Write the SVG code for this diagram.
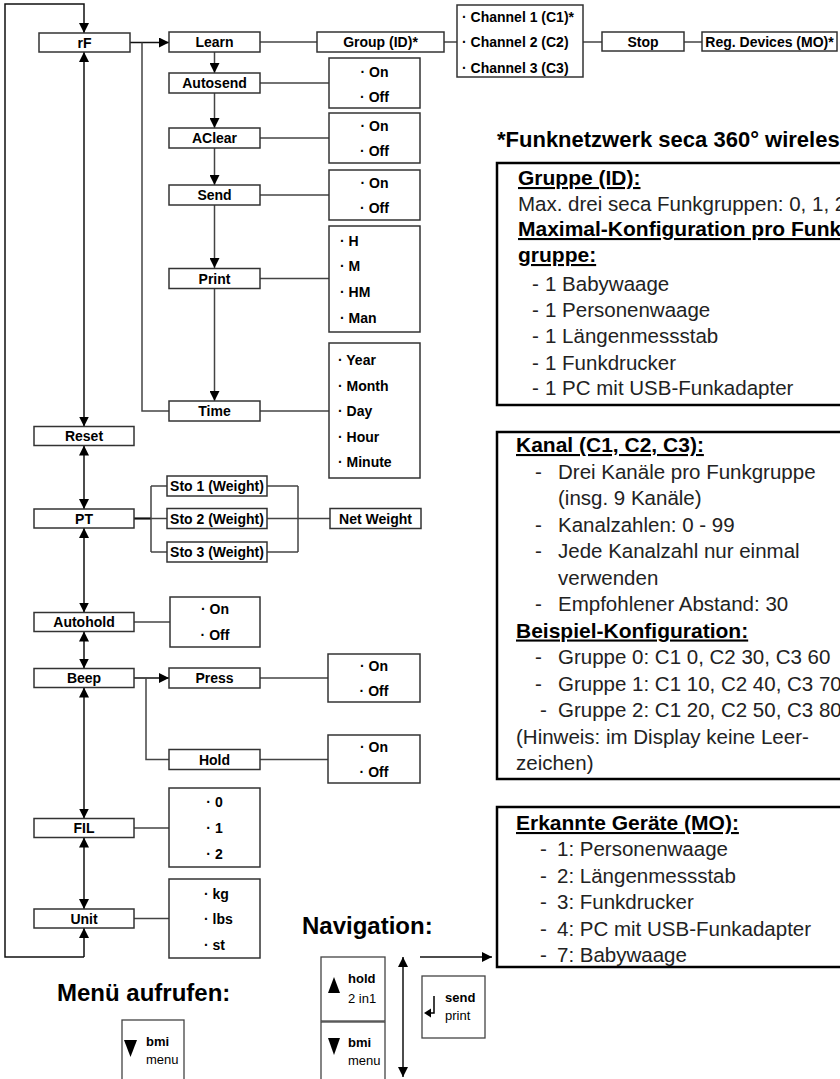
<svg xmlns="http://www.w3.org/2000/svg" width="840" height="1079" viewBox="0 0 840 1079">
<style>
.bx{fill:#fff;stroke:#333;stroke-width:1.5}
.ib{fill:#fff;stroke:#000;stroke-width:2.5}
.kb{fill:#fff;stroke:#444;stroke-width:1.3}
.t{font-family:"Liberation Sans",Arial,sans-serif;font-size:14px;font-weight:bold;fill:#000}
.c{text-anchor:middle}
.ln{fill:none;stroke:#444;stroke-width:1.5}
.lb{fill:none;stroke:#111;stroke-width:1.5}
.h{font-family:"Liberation Sans",Arial,sans-serif;font-size:22px;font-weight:bold;fill:#000}
.b{font-family:"Liberation Sans",Arial,sans-serif;font-size:20.5px;fill:#222}
.bu{font-family:"Liberation Sans",Arial,sans-serif;font-size:21px;font-weight:bold;fill:#000;text-decoration:underline}
.nv{font-family:"Liberation Sans",Arial,sans-serif;font-size:24px;font-weight:bold;fill:#000}
.kt{font-family:"Liberation Sans",Arial,sans-serif;font-size:13px;fill:#000}
.kbold{font-weight:bold}
</style>
<defs>
<marker id="ar" viewBox="0 0 10 10" refX="10" refY="5" markerWidth="10" markerHeight="10" markerUnits="userSpaceOnUse" orient="auto-start-reverse">
<path d="M0,0 L10,5 L0,10 z" fill="#000"/>
</marker>
</defs>

<g id="connectors">
<path class="lb" d="M84,957 L5,957 L5,4 L84,4 L84,33" marker-end="url(#ar)"/>
<path class="lb" d="M84,957 L84,928" marker-end="url(#ar)"/>
<path class="lb" d="M84,52 L84,426.5" marker-start="url(#ar)" marker-end="url(#ar)"/>
<path class="lb" d="M84,445.5 L84,509" marker-start="url(#ar)" marker-end="url(#ar)"/>
<path class="lb" d="M84,528 L84,612.5" marker-start="url(#ar)" marker-end="url(#ar)"/>
<path class="lb" d="M84,631.5 L84,668.5" marker-start="url(#ar)" marker-end="url(#ar)"/>
<path class="lb" d="M84,687.5 L84,818.5" marker-start="url(#ar)" marker-end="url(#ar)"/>
<path class="lb" d="M84,837.5 L84,909" marker-start="url(#ar)" marker-end="url(#ar)"/>

<path class="lb" d="M130,42.5 L169,42.5" marker-end="url(#ar)"/>
<path class="ln" d="M142,42.5 L142,411 L169,411"/>
<path class="ln" d="M214.5,52 L214.5,73" marker-end="url(#ar)"/>
<path class="ln" d="M214.5,93 L214.5,128" marker-end="url(#ar)"/>
<path class="ln" d="M214.5,148 L214.5,185" marker-end="url(#ar)"/>
<path class="ln" d="M214.5,205 L214.5,268" marker-end="url(#ar)"/>
<path class="ln" d="M214.5,289 L214.5,401" marker-end="url(#ar)"/>

<path class="ln" d="M260,42 L317,42 M444,42 L457,42 M583,42 L602,42 M684,42 L702,42"/>
<path class="ln" d="M260,83 L329,83 M260,138 L329,138 M260,195 L329,195 M260,278.5 L329,278.5 M260,411 L329,411"/>

<path class="lb" d="M134,518.5 L151,518.5" style="stroke-width:2.2"/>
<path class="ln" d="M151,486 L151,552 M151,486 L167,486 M151,518.5 L167,518.5 M151,552 L167,552"/>
<path class="ln" d="M267,486 L298,486 M267,518.5 L298,518.5 M267,552 L298,552 M298,486 L298,552 M298,518.5 L330,518.5"/>

<path class="ln" d="M134,622 L170,622"/>
<path class="lb" d="M134,678 L169,678" marker-end="url(#ar)"/>
<path class="ln" d="M146,678 L146,759.5 L169,759.5"/>
<path class="ln" d="M260,678 L328,678 M260,759.5 L328,759.5"/>
<path class="ln" d="M134,828 L169,828 M134,918.5 L169,918.5"/>

<path class="lb" d="M403,957 L403,1077" marker-start="url(#ar)" marker-end="url(#ar)"/>
<path class="lb" d="M420,957 L492,957" marker-end="url(#ar)"/>
</g>

<g id="rF"><rect class="bx" x="39" y="33" width="91" height="19"/><text class="t c" x="84.5" y="47.5">rF</text></g>
<g id="reset"><rect class="bx" x="34" y="426.5" width="100" height="19"/><text class="t c" x="84" y="441">Reset</text></g>
<g id="pt"><rect class="bx" x="34" y="509" width="100" height="19"/><text class="t c" x="84" y="523.5">PT</text></g>
<g id="autohold"><rect class="bx" x="34" y="612.5" width="100" height="19"/><text class="t c" x="84" y="627">Autohold</text></g>
<g id="beep"><rect class="bx" x="34" y="668.5" width="100" height="19"/><text class="t c" x="84" y="683">Beep</text></g>
<g id="fil"><rect class="bx" x="34" y="818.5" width="100" height="19"/><text class="t c" x="84" y="833">FIL</text></g>
<g id="unit"><rect class="bx" x="34" y="909" width="100" height="19"/><text class="t c" x="84" y="923.5">Unit</text></g>

<g id="learn"><rect class="bx" x="169" y="32" width="91" height="20"/><text class="t c" x="214.5" y="47">Learn</text></g>
<g id="autosend"><rect class="bx" x="169" y="73" width="91" height="20"/><text class="t c" x="214.5" y="88">Autosend</text></g>
<g id="aclear"><rect class="bx" x="169" y="128" width="91" height="20"/><text class="t c" x="214.5" y="143">AClear</text></g>
<g id="send"><rect class="bx" x="169" y="185" width="91" height="20"/><text class="t c" x="214.5" y="200">Send</text></g>
<g id="print"><rect class="bx" x="169" y="268.5" width="91" height="20"/><text class="t c" x="214.5" y="283.5">Print</text></g>
<g id="time"><rect class="bx" x="169" y="401" width="91" height="20"/><text class="t c" x="214.5" y="416">Time</text></g>
<g id="press"><rect class="bx" x="169" y="668" width="91" height="20"/><text class="t c" x="214.5" y="683">Press</text></g>
<g id="hold"><rect class="bx" x="169" y="749.5" width="91" height="20"/><text class="t c" x="214.5" y="764.5">Hold</text></g>

<g id="group"><rect class="bx" x="317" y="32" width="127" height="20"/><text class="t c" x="380.5" y="47">Group (ID)*</text></g>
<g id="channels"><rect class="bx" x="457" y="5" width="126" height="72"/>
<text class="t" x="462" y="22">· Channel 1 (C1)*</text><text class="t" x="462" y="47">· Channel 2 (C2)</text><text class="t" x="462" y="73">· Channel 3 (C3)</text></g>
<g id="stop"><rect class="bx" x="602" y="32" width="82" height="19"/><text class="t c" x="643" y="46.5">Stop</text></g>
<g id="regdev"><rect class="bx" x="702" y="32" width="135" height="19"/><text class="t c" x="769.5" y="46.5">Reg. Devices (MO)*</text></g>

<g id="autosend-opts"><rect class="bx" x="329" y="58" width="91" height="50"/><text class="t c" x="374.5" y="77">· On</text><text class="t c" x="374.5" y="102">· Off</text></g>
<g id="aclear-opts"><rect class="bx" x="329" y="113" width="91" height="50"/><text class="t c" x="374.5" y="130.5">· On</text><text class="t c" x="374.5" y="156">· Off</text></g>
<g id="send-opts"><rect class="bx" x="329" y="170" width="91" height="50"/><text class="t c" x="374.5" y="187.5">· On</text><text class="t c" x="374.5" y="213">· Off</text></g>
<g id="print-opts"><rect class="bx" x="329" y="226" width="91" height="106"/>
<text class="t" x="340" y="245.5">· H</text><text class="t" x="340" y="271">· M</text><text class="t" x="340" y="297">· HM</text><text class="t" x="340" y="322.5">· Man</text></g>
<g id="time-opts"><rect class="bx" x="329" y="343" width="91" height="135"/>
<text class="t" x="338" y="365">· Year</text><text class="t" x="338" y="390.5">· Month</text><text class="t" x="338" y="416">· Day</text><text class="t" x="338" y="441.5">· Hour</text><text class="t" x="338" y="467">· Minute</text></g>

<g id="sto1"><rect class="bx" x="167" y="476" width="100" height="20"/><text class="t c" x="217" y="491">Sto 1 (Weight)</text></g>
<g id="sto2"><rect class="bx" x="167" y="508.5" width="100" height="20"/><text class="t c" x="217" y="523.5">Sto 2 (Weight)</text></g>
<g id="sto3"><rect class="bx" x="167" y="542" width="100" height="20"/><text class="t c" x="217" y="557">Sto 3 (Weight)</text></g>
<g id="netweight"><rect class="bx" x="330" y="508.5" width="91" height="20"/><text class="t c" x="375.5" y="523.5">Net Weight</text></g>

<g id="autohold-opts"><rect class="bx" x="170" y="597" width="90" height="50"/><text class="t c" x="215" y="614">· On</text><text class="t c" x="215" y="639.5">· Off</text></g>
<g id="press-opts"><rect class="bx" x="328" y="654" width="92" height="48"/><text class="t c" x="374" y="671">· On</text><text class="t c" x="374" y="696">· Off</text></g>
<g id="hold-opts"><rect class="bx" x="328" y="735" width="92" height="48"/><text class="t c" x="374" y="752">· On</text><text class="t c" x="374" y="777">· Off</text></g>
<g id="fil-opts"><rect class="bx" x="169" y="788" width="91" height="79"/><text class="t c" x="214.5" y="807">· 0</text><text class="t c" x="214.5" y="833">· 1</text><text class="t c" x="214.5" y="859">· 2</text></g>
<g id="unit-opts"><rect class="bx" x="169" y="879" width="91" height="79"/><text class="t" x="204" y="899">· kg</text><text class="t" x="204" y="924">· lbs</text><text class="t" x="204" y="950">· st</text></g>

<g id="info-title"><text class="h" x="497" y="147">*Funknetzwerk seca 360° wireless</text></g>
<g id="info-gruppe"><rect class="ib" x="497" y="163" width="360" height="242"/>
<text class="bu" x="518" y="185">Gruppe (ID):</text>
<text class="b" x="518" y="211">Max. drei seca Funkgruppen: 0, 1, 2</text>
<text class="bu" x="518" y="236">Maximal-Konfiguration pro Funk-</text>
<text class="bu" x="518" y="262">gruppe:</text>
<text class="b" x="532" y="291">-</text><text class="b" x="545" y="291">1 Babywaage</text>
<text class="b" x="532" y="317">-</text><text class="b" x="545" y="317">1 Personenwaage</text>
<text class="b" x="532" y="343">-</text><text class="b" x="545" y="343">1 Längenmessstab</text>
<text class="b" x="532" y="370">-</text><text class="b" x="545" y="370">1 Funkdrucker</text>
<text class="b" x="532" y="395">-</text><text class="b" x="545" y="395">1 PC mit USB-Funkadapter</text>
</g>
<g id="info-kanal"><rect class="ib" x="497" y="432" width="360" height="347"/>
<text class="bu" x="516" y="452">Kanal (C1, C2, C3):</text>
<text class="b" x="535" y="478.5">-</text><text class="b" x="558" y="478.5">Drei Kanäle pro Funkgruppe</text>
<text class="b" x="558" y="505">(insg. 9 Kanäle)</text>
<text class="b" x="535" y="531.5">-</text><text class="b" x="558" y="531.5">Kanalzahlen: 0 - 99</text>
<text class="b" x="535" y="558">-</text><text class="b" x="558" y="558">Jede Kanalzahl nur einmal</text>
<text class="b" x="558" y="584.5">verwenden</text>
<text class="b" x="535" y="611">-</text><text class="b" x="558" y="611">Empfohlener Abstand: 30</text>
<text class="bu" x="516" y="637.5">Beispiel-Konfiguration:</text>
<text class="b" x="535" y="664">-</text><text class="b" x="558" y="664">Gruppe 0: C1 0, C2 30, C3 60</text>
<text class="b" x="535" y="690.5">-</text><text class="b" x="558" y="690.5">Gruppe 1: C1 10, C2 40, C3 70</text>
<text class="b" x="540" y="717">-</text><text class="b" x="558" y="717">Gruppe 2: C1 20, C2 50, C3 80</text>
<text class="b" x="516" y="743.5">(Hinweis: im Display keine Leer-</text>
<text class="b" x="516" y="770">zeichen)</text>
</g>
<g id="info-geraete"><rect class="ib" x="497" y="807" width="360" height="160"/>
<text class="bu" x="516" y="830">Erkannte Geräte (MO):</text>
<text class="b" x="540" y="856">-</text><text class="b" x="557" y="856">1: Personenwaage</text>
<text class="b" x="540" y="883">-</text><text class="b" x="557" y="883">2: Längenmessstab</text>
<text class="b" x="540" y="909">-</text><text class="b" x="557" y="909">3: Funkdrucker</text>
<text class="b" x="540" y="936">-</text><text class="b" x="557" y="936">4: PC mit USB-Funkadapter</text>
<text class="b" x="540" y="962">-</text><text class="b" x="557" y="962">7: Babywaage</text>
</g>

<g id="menu-title"><text class="nv" x="57" y="1001">Menü aufrufen:</text></g>
<g id="menu-key"><rect class="kb" x="122" y="1020" width="62" height="70"/>
<path d="M124,1040 L137,1040 L130.5,1057 z" fill="#000"/>
<text class="kt kbold" x="146" y="1046">bmi</text><text class="kt" x="146" y="1064">menu</text></g>

<g id="nav-title"><text class="nv" x="302" y="934">Navigation:</text></g>
<g id="key-hold"><rect class="kb" x="321" y="957" width="64" height="64"/>
<path d="M328,993 L340,993 L334,977 z" fill="#000"/>
<text class="kt kbold" x="348" y="983">hold</text><text class="kt" x="348" y="1003">2 in1</text></g>
<g id="key-bmi"><rect class="kb" x="321" y="1022" width="64" height="70"/>
<path d="M328,1038 L340,1038 L334,1055 z" fill="#000"/>
<text class="kt kbold" x="348" y="1047">bmi</text><text class="kt" x="348" y="1065">menu</text></g>
<g id="key-send"><rect class="kb" x="422" y="976" width="63" height="62"/>
<path d="M434,996 L434,1013 L430,1013" fill="none" stroke="#000" stroke-width="1.5"/>
<path d="M424,1013 L431,1008.5 L431,1017.5 z" fill="#000"/>
<text class="kt kbold" x="445" y="1002">send</text><text class="kt" x="445" y="1020">print</text></g>
</svg>
